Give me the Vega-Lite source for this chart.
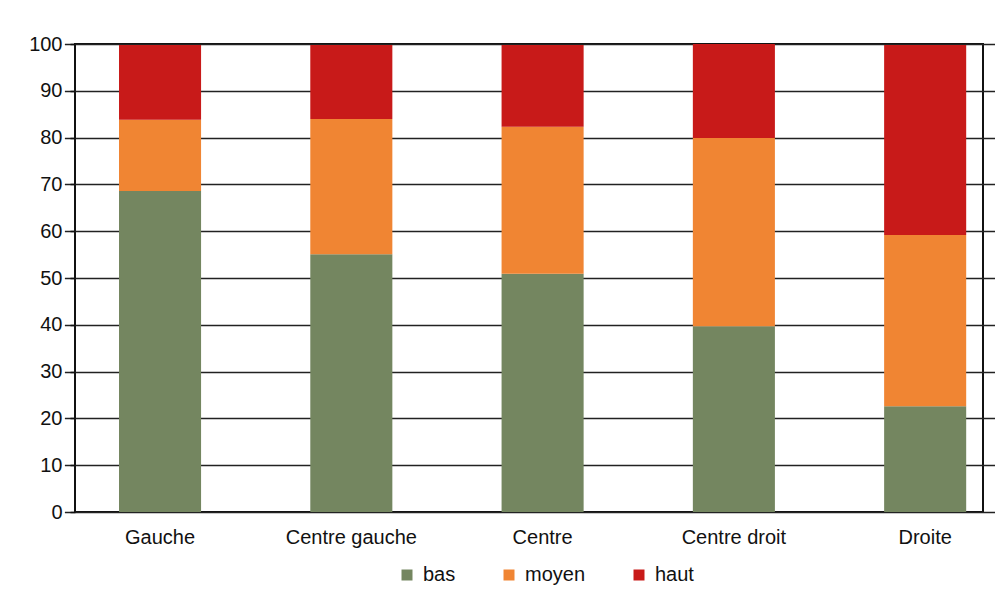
{
  "$schema": "https://vega.github.io/schema/vega-lite/v6.json",
  "autosize": {"type": "none"},
  "padding": {"left": 75, "top": 44, "right": 12, "bottom": 78},
  "width": 908,
  "height": 468,
  "background": "white",
  "data": {
    "values": [
      {"cat": "Gauche", "niveau": "bas", "ordre": 1, "val": 68.6},
      {"cat": "Gauche", "niveau": "moyen", "ordre": 2, "val": 15.2},
      {"cat": "Gauche", "niveau": "haut", "ordre": 3, "val": 16.0},
      {"cat": "Centre gauche", "niveau": "bas", "ordre": 1, "val": 55.1},
      {"cat": "Centre gauche", "niveau": "moyen", "ordre": 2, "val": 28.9},
      {"cat": "Centre gauche", "niveau": "haut", "ordre": 3, "val": 15.8},
      {"cat": "Centre", "niveau": "bas", "ordre": 1, "val": 50.9},
      {"cat": "Centre", "niveau": "moyen", "ordre": 2, "val": 31.4},
      {"cat": "Centre", "niveau": "haut", "ordre": 3, "val": 17.5},
      {"cat": "Centre droit", "niveau": "bas", "ordre": 1, "val": 39.7},
      {"cat": "Centre droit", "niveau": "moyen", "ordre": 2, "val": 40.2},
      {"cat": "Centre droit", "niveau": "haut", "ordre": 3, "val": 20.1},
      {"cat": "Droite", "niveau": "bas", "ordre": 1, "val": 22.6},
      {"cat": "Droite", "niveau": "moyen", "ordre": 2, "val": 36.6},
      {"cat": "Droite", "niveau": "haut", "ordre": 3, "val": 40.6}
    ]
  },
  "mark": {"type": "bar"},
  "encoding": {
    "x": {
      "field": "cat",
      "type": "nominal",
      "sort": ["Gauche", "Centre gauche", "Centre", "Centre droit", "Droite"],
      "scale": {"range": [-10.6, 945.8], "paddingInner": 0.571, "paddingOuter": 0.2855},
      "axis": {
        "title": null,
        "domain": false,
        "ticks": false,
        "labelAngle": 0,
        "labelPadding": 15,
        "labelFont": "Liberation Sans",
        "labelFontSize": 20,
        "labelColor": "#111111"
      }
    },
    "y": {
      "field": "val",
      "type": "quantitative",
      "stack": "zero",
      "scale": {"domain": [0, 100], "nice": false},
      "axis": {
        "title": null,
        "values": [0, 10, 20, 30, 40, 50, 60, 70, 80, 90, 100],
        "domain": false,
        "ticks": true,
        "tickSize": 5,
        "tickColor": "#111111",
        "tickWidth": 1.5,
        "grid": true,
        "gridColor": "#222222",
        "gridWidth": 1.6,
        "gridOpacity": 1,
        "labelPadding": 8,
        "labelFont": "Liberation Sans",
        "labelFontSize": 20,
        "labelColor": "#111111"
      }
    },
    "color": {
      "field": "niveau",
      "type": "nominal",
      "scale": {"domain": ["bas", "moyen", "haut"], "range": ["#748660", "#F08533", "#C81A19"]},
      "legend": {
        "title": null,
        "orient": "none",
        "legendX": 322,
        "legendY": 521,
        "direction": "horizontal",
        "symbolType": "square",
        "symbolSize": 121,
        "symbolStrokeWidth": 0,
        "labelFont": "Liberation Sans",
        "labelFontSize": 20,
        "labelColor": "#111111",
        "labelOffset": 6,
        "columnPadding": 43
      }
    },
    "order": {"field": "ordre", "type": "quantitative"}
  },
  "config": {
    "view": {"stroke": "#111111", "strokeWidth": 2}
  }
}
